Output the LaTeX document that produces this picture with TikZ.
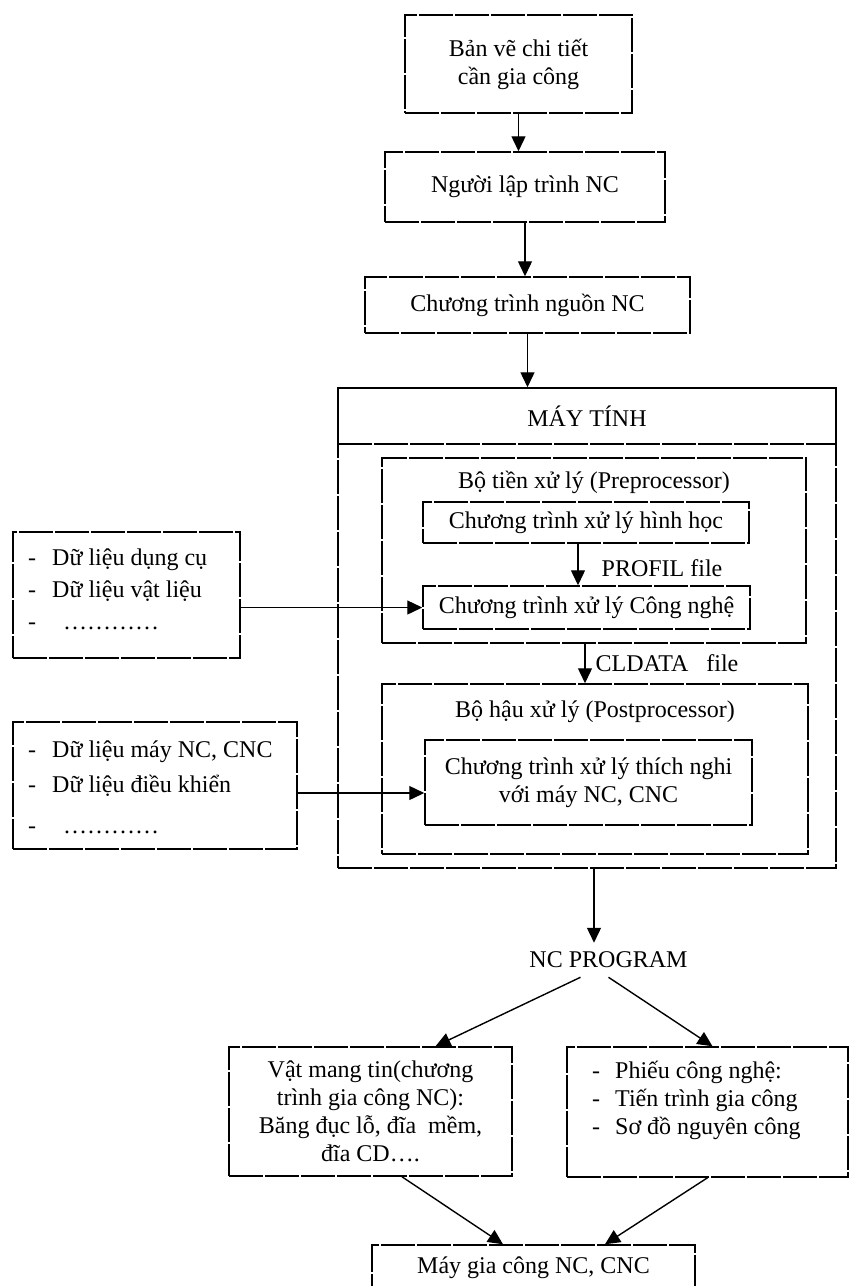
\documentclass[tikz,border=0pt]{standalone}
\usepackage{fontspec}
\setmainfont{Liberation Serif}
\usetikzlibrary{arrows.meta}
\newcommand{\myfs}{\fontsize{24}{28}\selectfont}
\begin{document}
\begin{tikzpicture}[x=1pt,y=-1pt,
  box/.style={draw, line width=1.5pt, dash pattern=on 34pt off 2pt, inner sep=2pt, align=center, font=\myfs},
  txt/.style={inner sep=0pt, align=left, font=\myfs},
  arr/.style={line width=1.4pt, -{Triangle[length=15pt,width=14pt]}},
]
\useasboundingbox (0,0) rectangle (850,1286);
% top chain
\node[box, minimum width=227pt, minimum height=98pt] (b1) at (518.5,64) {Bản vẽ chi tiết\\cần gia công};
\node[box, minimum width=280pt, minimum height=70pt] (b2) at (525,187) {Người lập trình NC};
\node[box, minimum width=325pt, minimum height=56pt] (b3) at (527.5,305) {Chương trình nguồn NC};
% computer
\node[box, minimum width=498pt, minimum height=480pt] (mt) at (587,628) {};
\node[box, minimum width=498pt, minimum height=56pt] (hdr) at (587,416) {MÁY TÍNH};
\node[box, minimum width=424pt, minimum height=185pt] (pre) at (594,550.5) {};
\node[txt] (pret) at (594,482) {Bộ tiền xử lý (Preprocessor)};
\node[box, minimum width=326pt, minimum height=41pt] (geo) at (586,522.5) {Chương trình xử lý hình học};
\node[box, minimum width=327pt, minimum height=43pt] (tech) at (586.5,607.5) {Chương trình xử lý Công nghệ};
\node[txt] (profil) at (662,568) {PROFIL file};
\node[box, minimum width=426pt, minimum height=170pt] (post) at (595,769) {};
\node[txt] (postt) at (595,712) {Bộ hậu xử lý (Postprocessor)};
\node[box, minimum width=327pt, minimum height=85pt] (adapt) at (588.5,782.5) {Chương trình xử lý thích nghi\\với máy NC, CNC};
\node[txt] (cld) at (667,663) {CLDATA\ \ \ file};
% data boxes
\node[box, minimum width=227pt, minimum height=126pt] (d1) at (126.5,595) {};
\node[txt, anchor=west] (d1t) at (28,589) {\makebox[24pt][l]{-}Dữ liệu dụng cụ\\[4pt]\makebox[24pt][l]{-}Dữ liệu vật liệu\\[4pt]\makebox[35pt][l]{-}…………};
\node[box, minimum width=284pt, minimum height=127pt] (d2) at (155,785.5) {};
\node[txt, anchor=west] (d2t) at (28,787) {\makebox[24pt][l]{-}Dữ liệu máy NC, CNC\\[7pt]\makebox[24pt][l]{-}Dữ liệu điều khiển\\[13pt]\makebox[35pt][l]{-}…………};
% output
\node[txt, inner ysep=9pt] (nc) at (608.5,960) {NC PROGRAM};
\node[box, minimum width=283pt, minimum height=129pt] (lb) at (370.5,1111.5) {Vật mang tin(chương\\trình gia công NC):\\Băng đục lỗ, đĩa\ \ mềm,\\đĩa CD….};
\node[box, minimum width=281pt, minimum height=130pt] (rb) at (707.5,1112) {};
\node[txt, anchor=west] (rbt) at (592,1100) {\makebox[23pt][l]{-}Phiếu công nghệ:\\\makebox[23pt][l]{-}Tiến trình gia công\\\makebox[23pt][l]{-}Sơ đồ nguyên công};
\node[box, minimum width=323pt, minimum height=45pt] (m) at (533.5,1267.5) {Máy gia công NC, CNC};
% connectors
\draw[arr] (b1.south) -- (b1.south |- b2.north);
\draw[arr] (b2.south) -- (b2.south |- b3.north);
\draw[arr] (b3.south) -- (b3.south |- hdr.north);
\draw[arr] ([xshift=-8pt]geo.south) -- ([xshift=-8pt]geo.south |- tech.north);
\draw[arr] ([xshift=-9pt]pre.south) -- ([xshift=-9pt]pre.south |- post.north);
\draw[arr] (d1.east |- tech.west) -- (tech.west);
\coordinate (a2) at ([yshift=-10.5pt]adapt.west);
\draw[arr] (d2.east |- a2) -- (a2);
\draw[arr] ([xshift=7pt]mt.south) -- ([xshift=7pt]mt.south |- nc.north);
\draw[arr] ([xshift=-28pt]nc.south) -- ([xshift=65pt]lb.north);
\draw[arr] (nc.south) -- ([xshift=5pt]rb.north);
\draw[arr] ([xshift=31.5pt]lb.south) -- ([xshift=-30.5pt]m.north);
\draw[arr] (rb.south) -- ([xshift=71.5pt]m.north);
\end{tikzpicture}
\end{document}
